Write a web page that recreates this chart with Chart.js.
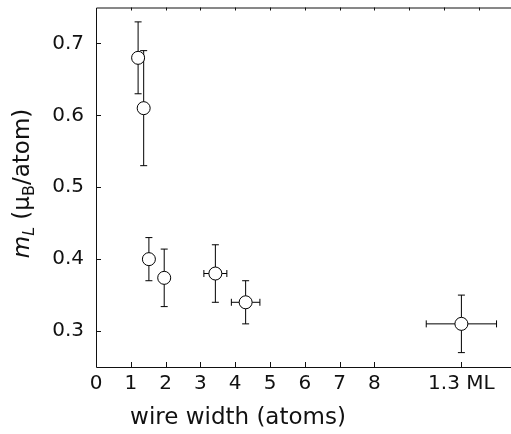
<!DOCTYPE html>
<html>
<head>
<meta charset="utf-8">
<script src="https://cdn.jsdelivr.net/npm/chart.js@4.4.1/dist/chart.umd.min.js"></script>
<style>
  html, body { margin: 0; padding: 0; background: #fff; }
  #wrap { width: 511px; height: 434px; position: relative; }
</style>
</head>
<body>
<div id="wrap"><canvas id="chart"></canvas></div>
<script>
// wire width (atoms); 10.5 is the "1.3 ML" position on the axis
const widths = [1.21, 1.37, 1.52, 1.96, 3.43, 4.30, 10.5];
const widthErr = [0, 0, 0, 0, 0.33, 0.41, 1.01];
const mL = [0.68, 0.61, 0.40, 0.374, 0.38, 0.34, 0.31];
const mLErr = [0.05, 0.08, 0.03, 0.04, 0.04, 0.03, 0.04];

const xTicks = [0, 1, 2, 3, 4, 5, 6, 7, 8, 10.5];
const xTickLabels = ['0', '1', '2', '3', '4', '5', '6', '7', '8', '1.3 ML'];
const topTicks = [1, 2, 3, 4, 5, 6, 7, 8, 9, 10, 11];
const yTicks = [0.3, 0.4, 0.5, 0.6, 0.7];

const FONT = '"DejaVu Sans", sans-serif';

// error bars, drawn under the circles
const errorBars = {
  id: 'errorBars',
  beforeDatasetsDraw(chart) {
    const { ctx, scales: { x, y } } = chart;
    ctx.save();
    ctx.strokeStyle = '#000';
    ctx.lineWidth = 1;
    const cap = 3.5;
    widths.forEach((w, i) => {
      const px = x.getPixelForValue(w);
      const py = y.getPixelForValue(mL[i]);
      const y1 = y.getPixelForValue(mL[i] + mLErr[i]);
      const y2 = y.getPixelForValue(mL[i] - mLErr[i]);
      ctx.beginPath();
      ctx.moveTo(px, y1); ctx.lineTo(px, y2);
      ctx.moveTo(px - cap, y1); ctx.lineTo(px + cap, y1);
      ctx.moveTo(px - cap, y2); ctx.lineTo(px + cap, y2);
      if (widthErr[i] > 0) {
        const x1 = x.getPixelForValue(w - widthErr[i]);
        const x2 = x.getPixelForValue(w + widthErr[i]);
        ctx.moveTo(x1, py); ctx.lineTo(x2, py);
        ctx.moveTo(x1, py - cap); ctx.lineTo(x1, py + cap);
        ctx.moveTo(x2, py - cap); ctx.lineTo(x2, py + cap);
      }
      ctx.stroke();
    });
    ctx.restore();
  }
};

// frame with inward ticks + rich axis titles
const frame = {
  id: 'frame',
  afterDraw(chart) {
    const { ctx, chartArea: a, scales: { x, y } } = chart;
    const right = chart.width;
    ctx.save();
    ctx.strokeStyle = '#111';
    ctx.lineWidth = 1;
    ctx.beginPath();
    ctx.moveTo(right, a.top + 0.5); ctx.lineTo(a.left + 0.5, a.top + 0.5);
    ctx.lineTo(a.left + 0.5, a.bottom + 0.5); ctx.lineTo(right, a.bottom + 0.5);
    xTicks.forEach(v => {
      const px = Math.round(x.getPixelForValue(v)) + 0.5;
      ctx.moveTo(px, a.bottom); ctx.lineTo(px, a.bottom - 5);
    });
    topTicks.forEach(v => {
      const px = Math.round(x.getPixelForValue(v)) + 0.5;
      ctx.moveTo(px, a.top); ctx.lineTo(px, a.top + 3);
    });
    yTicks.forEach(v => {
      const py = Math.round(y.getPixelForValue(v)) + 0.5;
      ctx.moveTo(a.left, py); ctx.lineTo(a.left + 5, py);
    });
    ctx.stroke();

    ctx.fillStyle = '#111';
    ctx.textBaseline = 'alphabetic';
    // x title
    ctx.font = '23px ' + FONT;
    ctx.textAlign = 'center';
    ctx.fillText('wire width (atoms)', 238, 424);

    // y title: m_L (μ_B/atom)
    const parts = [
      { t: 'm', f: 'italic 23px ' + FONT, dy: 0 },
      { t: 'L', f: 'italic 16px ' + FONT, dy: 5 },
      { t: ' (μ', f: '23px ' + FONT, dy: 0 },
      { t: 'B', f: '16px ' + FONT, dy: 5 },
      { t: '/atom)', f: '23px ' + FONT, dy: 0 }
    ];
    let total = 0;
    parts.forEach(p => { ctx.font = p.f; p.w = ctx.measureText(p.t).width; total += p.w; });
    ctx.translate(29, 183.5);
    ctx.rotate(-Math.PI / 2);
    ctx.textAlign = 'left';
    let cx = -total / 2;
    parts.forEach(p => {
      ctx.font = p.f;
      ctx.fillText(p.t, cx, p.dy);
      cx += p.w;
    });
    ctx.restore();
  }
};

new Chart(document.getElementById('chart'), {
  type: 'scatter',
  data: {
    datasets: [{
      data: widths.map((w, i) => ({ x: w, y: mL[i] })),
      pointRadius: 6.5,
      pointHoverRadius: 6.5,
      pointBackgroundColor: '#fff',
      pointBorderColor: '#000',
      pointBorderWidth: 1
    }]
  },
  options: {
    responsive: true,
    maintainAspectRatio: false,
    animation: false,
    events: [],
    layout: { padding: { top: 3, right: 0, left: 0, bottom: 0 } },
    plugins: { legend: { display: false }, tooltip: { enabled: false } },
    scales: {
      x: {
        type: 'linear',
        min: 0,
        max: 11.71,
        afterBuildTicks: s => { s.ticks = xTicks.map(v => ({ value: v })); },
        afterFit: s => { s.height = 67; s.paddingLeft = 0; s.paddingRight = 0; },
        grid: { display: false, drawTicks: false },
        border: { display: false },
        ticks: {
          padding: 5,
          color: '#111',
          font: { family: FONT, size: 20 },
          maxRotation: 0,
          autoSkip: false,
          callback: v => xTickLabels[xTicks.indexOf(v)]
        }
      },
      y: {
        min: 0.25,
        max: 0.75,
        afterBuildTicks: s => { s.ticks = yTicks.map(v => ({ value: v })); },
        afterFit: s => { s.width = 96; s.paddingTop = 0; s.paddingBottom = 0; },
        grid: { display: false, drawTicks: false },
        border: { display: false },
        ticks: {
          padding: 12,
          color: '#111',
          font: { family: FONT, size: 20 },
          callback: v => v.toFixed(1)
        }
      }
    }
  },
  plugins: [errorBars, frame]
});
</script>
</body>
</html>
